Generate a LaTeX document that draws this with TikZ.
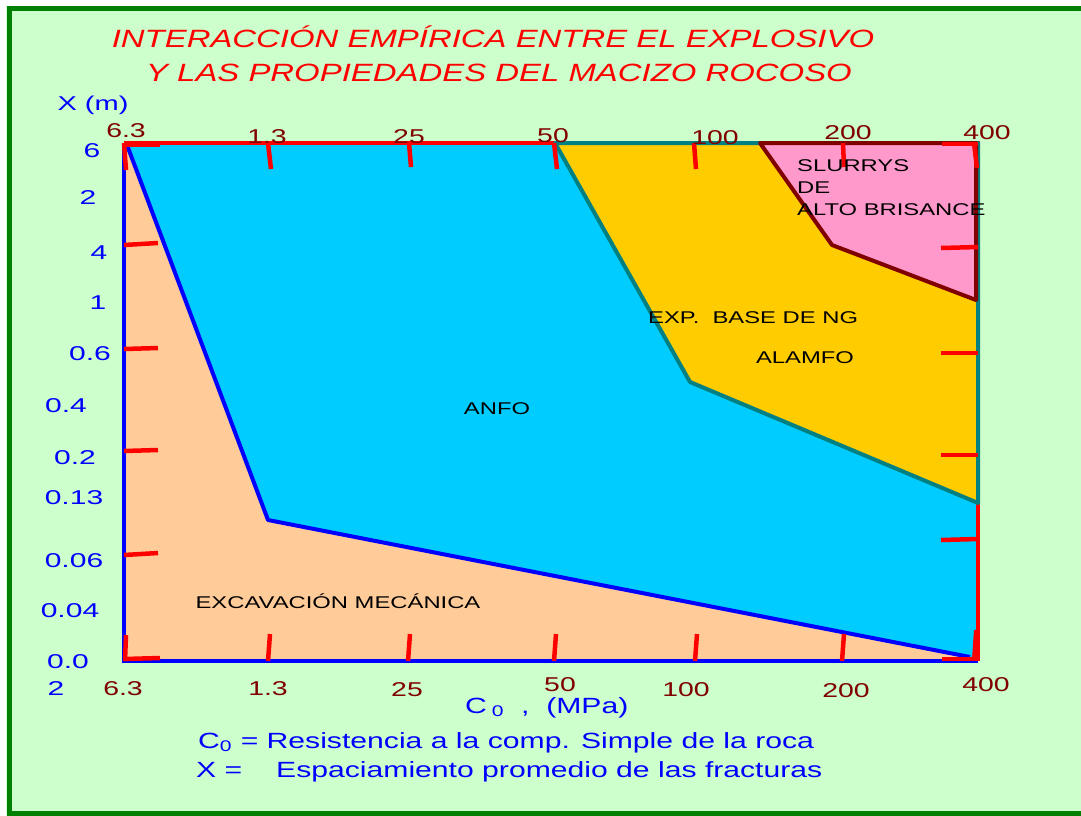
\documentclass[tikz,border=0pt]{standalone}
\usepackage{fontspec}
\setmainfont{Liberation Sans}
\usepackage{graphicx}
\definecolor{bggreen}{HTML}{CCFFCC}
\definecolor{bordergreen}{HTML}{008000}
\definecolor{titlered}{HTML}{FF0000}
\definecolor{numred}{HTML}{800000}
\definecolor{peach}{HTML}{FFCC99}
\definecolor{anfocyan}{HTML}{00CCFF}
\definecolor{gold}{HTML}{FFCC00}
\definecolor{pinkreg}{HTML}{FF99CC}
\definecolor{tealline}{HTML}{008080}
\definecolor{axisblue}{HTML}{0000FF}
\newcommand{\hsc}[2][1.4]{\scalebox{#1}[1]{#2}}
\begin{document}
\begin{tikzpicture}[x=1pt,y=-1pt,
  titletext/.style={text=titlered, font=\fontsize{25}{30}\selectfont\itshape, anchor=base, inner sep=0pt},
  numtext/.style={text=numred, font=\fontsize{20}{24}\selectfont, anchor=base, inner sep=0pt},
  ylabtext/.style={text=axisblue, font=\fontsize{20}{24}\selectfont, anchor=base, inner sep=0pt},
  regtext/.style={text=black, font=\fontsize{17}{20}\selectfont, anchor=base, inner sep=0pt},
  notetext/.style={text=axisblue, font=\fontsize{22}{26}\selectfont, anchor=base west, inner sep=0pt},
  tickline/.style={draw=red, line width=4.5pt},
  axisline/.style={draw=axisblue, line width=4pt}]
\useasboundingbox (0,0) rectangle (1081,815);
% background and border
\fill[bggreen] (6,6) rectangle (1081,815);
\draw[bordergreen, line width=5pt] (1081,8.5) -- (9,8.5) -- (9,813) -- (1081,813);
% regions
\fill[peach] (124,143) rectangle (978,661);
\fill[anfocyan] (127,143) -- (555,143) -- (690,382) -- (978,503) -- (978,652) -- (972,658) -- (268,520) -- cycle;
\draw[red, line width=4pt] (124,143) -- (978,143) -- (978,661);
\filldraw[fill=gold, draw=tealline, line width=4pt, line join=round] (555,143) -- (978,143) -- (978,503) -- (690,382) -- cycle;
\filldraw[fill=pinkreg, draw=numred, line width=4pt, line join=round] (760,143) -- (976,143) -- (976,300) -- (832,245) -- cycle;
% axes
\draw[axisline] (124,143) -- (124,661) -- (978,661);
\draw[axisblue, line width=4pt, line join=round] (127,145) -- (268,520) -- (970,657);
% top ticks
\draw[tickline] (124,145) -- (160,145);
\draw[tickline] (124,143) -- (126,170);
\draw[tickline] (268,143) -- (271,169);
\draw[tickline] (409,143) -- (411,167);
\draw[tickline] (554,143) -- (557,169);
\draw[tickline] (694,143) -- (696,169);
\draw[tickline] (843,143) -- (844,167);
\draw[tickline] (942,144) -- (978,144);
\draw[tickline] (974,143) -- (977,168);
% bottom ticks
\draw[tickline] (124,659) -- (160,658);
\draw[tickline] (125,661) -- (126,635);
\draw[tickline] (268,661) -- (270,634);
\draw[tickline] (408,661) -- (410,634);
\draw[tickline] (554,661) -- (556,634);
\draw[tickline] (695,661) -- (697,634);
\draw[tickline] (842,661) -- (844,634);
\draw[tickline] (942,659) -- (978,659);
\draw[tickline, line width=6pt] (975,659) -- (977,630);
% left ticks
\draw[tickline] (124,245) -- (158,243);
\draw[tickline] (124,349) -- (158,348);
\draw[tickline] (124,451) -- (158,450);
\draw[tickline] (124,555) -- (158,553);
% right ticks
\draw[tickline] (941,248) -- (978,247);
\draw[tickline] (941,353) -- (978,353);
\draw[tickline] (941,455) -- (978,455);
\draw[tickline] (941,540) -- (978,539);
% title
\node[titletext] (title1) at (493,47) {\hsc[1.316]{INTERACCIÓN EMPÍRICA ENTRE EL EXPLOSIVO}};
\node[titletext] (title2) at (499,81) {\hsc[1.316]{Y LAS PROPIEDADES DEL MACIZO ROCOSO}};
% y axis title
\node[ylabtext] (xm) at (93,110) {\hsc[1.45]{X (m)}};
% top numbers
\node[numtext] (t63) at (126,137) {\hsc[1.42]{6.3}};
\node[numtext] (t13) at (267,143) {\hsc[1.42]{1.3}};
\node[numtext] (t25) at (409,143) {\hsc[1.42]{25}};
\node[numtext] (t50) at (553,142) {\hsc[1.42]{50}};
\node[numtext] (t100) at (715,144) {\hsc[1.42]{100}};
\node[numtext] (t200) at (848,139) {\hsc[1.42]{200}};
\node[numtext] (t400) at (987,139) {\hsc[1.42]{400}};
% bottom numbers
\node[numtext] (b63) at (123,695) {\hsc[1.42]{6.3}};
\node[numtext] (b13) at (268,695) {\hsc[1.42]{1.3}};
\node[numtext] (b25) at (407,696) {\hsc[1.42]{25}};
\node[numtext] (b50) at (560,691) {\hsc[1.42]{50}};
\node[numtext] (b100) at (686,696) {\hsc[1.42]{100}};
\node[numtext] (b200) at (846,697) {\hsc[1.42]{200}};
\node[numtext] (b400) at (986,691) {\hsc[1.42]{400}};
% left numbers
\node[ylabtext] (y6) at (92,157) {\hsc[1.5]{6}};
\node[ylabtext] (y2) at (88,204) {\hsc[1.5]{2}};
\node[ylabtext] (y4) at (99,259) {\hsc[1.5]{4}};
\node[ylabtext] (y1) at (98,309) {\hsc[1.5]{1}};
\node[ylabtext] (y06) at (90,360) {\hsc[1.5]{0.6}};
\node[ylabtext] (y04) at (66,412) {\hsc[1.5]{0.4}};
\node[ylabtext] (y02) at (75,464) {\hsc[1.5]{0.2}};
\node[ylabtext] (y013) at (74,504) {\hsc[1.5]{0.13}};
\node[ylabtext] (y006) at (74,567) {\hsc[1.5]{0.06}};
\node[ylabtext] (y004) at (70,617) {\hsc[1.5]{0.04}};
\node[ylabtext] (y00) at (68,668) {\hsc[1.5]{0.0}};
\node[ylabtext] (y2b) at (56,695) {\hsc[1.5]{2}};
% region labels
\node[regtext] (anfo) at (497,414) {\hsc{ANFO}};
\node[regtext] (exc) at (338,608) {\hsc{EXCAVACIÓN MECÁNICA}};
\node[regtext, anchor=base west] (expng) at (648,323) {\hsc{EXP.\ \ BASE DE NG}};
\node[regtext] (alamfo) at (805,363) {\hsc{ALAMFO}};
\node[regtext, anchor=base west] (slur1) at (797,171) {\hsc{SLURRYS}};
\node[regtext, anchor=base west] (slur2) at (797,193) {\hsc{DE}};
\node[regtext, anchor=base west] (slur3) at (797,215) {\hsc{ALTO BRISANCE}};
% axis caption and notes
\node[notetext] (c0) at (465,713) {\hsc[1.37]{C\,\textsubscript{0}\ \ ,\ \ (MPa)}};
\node[notetext] (note1) at (198,748) {\hsc[1.37]{C\textsubscript{0} = Resistencia a la comp. Simple de la roca}};
\node[notetext] (note2a) at (196,777) {\hsc[1.37]{X =}};
\node[notetext] (note2b) at (276,777) {\hsc[1.37]{Espaciamiento promedio de las fracturas}};
\end{tikzpicture}
\end{document}
